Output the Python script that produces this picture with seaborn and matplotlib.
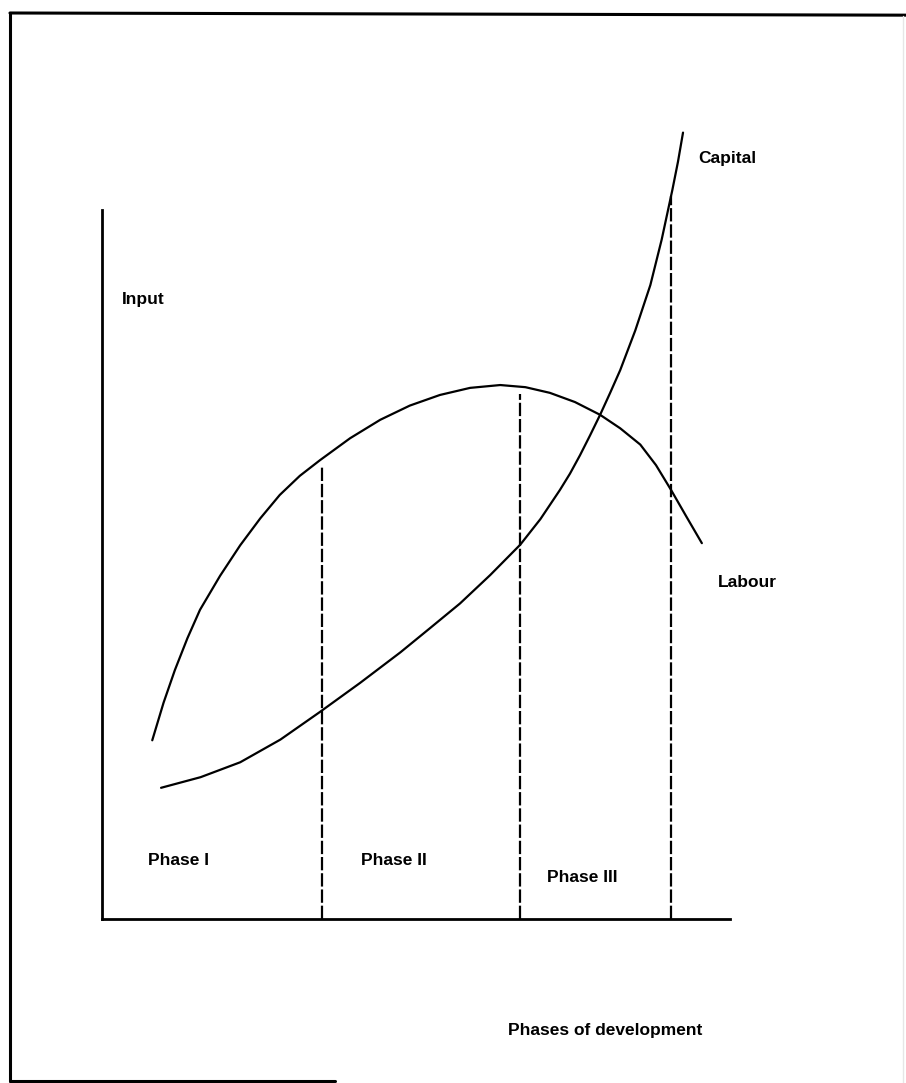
import matplotlib
matplotlib.use("Agg")
import matplotlib.pyplot as plt
from matplotlib.lines import Line2D
import seaborn as sns

# --- DATA (schematic units: x = development, y = input) ---
labour_x = [0.80, 0.98, 1.16, 1.36, 1.56, 1.88, 2.20, 2.52, 2.83, 3.15, 3.47, 3.95, 4.43, 4.90,
            5.38, 5.86, 6.34, 6.74, 7.13, 7.53, 7.93, 8.25, 8.57, 8.82, 9.06, 9.30, 9.55]
labour_y = [2.52, 3.05, 3.51, 3.96, 4.36, 4.84, 5.27, 5.65, 5.98, 6.25, 6.47, 6.78, 7.04, 7.24,
            7.39, 7.49, 7.53, 7.50, 7.42, 7.29, 7.11, 6.92, 6.69, 6.40, 6.05, 5.68, 5.30]

capital_x = [0.94, 1.57, 2.20, 2.84, 3.47, 4.11, 4.75, 5.22, 5.70, 6.18, 6.66, 6.98, 7.29,
             7.45, 7.61, 7.77, 7.93, 8.09, 8.25, 8.49, 8.73, 8.91, 9.08, 9.17, 9.25]
capital_y = [1.85, 2.00, 2.21, 2.53, 2.92, 3.33, 3.76, 4.10, 4.45, 4.85, 5.28, 5.64, 6.05,
             6.28, 6.54, 6.82, 7.11, 7.42, 7.74, 8.30, 8.94, 9.58, 10.28, 10.68, 11.09]

phase_bounds = [3.50, 6.66, 9.06]
phase_tops = [6.40, 7.40, 10.20]

phase_labels = ["Phase I", "Phase II", "Phase III"]
phase_label_x = [0.73, 4.12, 7.09]
phase_label_y = [0.82, 0.82, 0.58]

sns.set_theme(style="white")
plt.rcParams["font.family"] = ["Liberation Sans Narrow", "DejaVu Sans Condensed", "Liberation Sans"]

fig = plt.figure(figsize=(9.06, 10.83), dpi=100)
ax = fig.add_axes([0, 0, 1, 1])
ax.set_xlim(-1.624, 12.80)
ax.set_ylim(-2.313, 12.96)

# curves
sns.lineplot(x=labour_x, y=labour_y, sort=False, estimator=None, color="black", lw=1.6, ax=ax)
sns.lineplot(x=capital_x, y=capital_y, sort=False, estimator=None, color="black", lw=1.6, ax=ax)

# phase boundaries
ax.vlines(phase_bounds, 0, phase_tops, colors="black", lw=1.6, linestyles=(0, (6, 1.3)))

# axes as spines through the origin
for side in ["top", "right"]:
    ax.spines[side].set_visible(False)
ax.spines["left"].set_position(("data", 0))
ax.spines["bottom"].set_position(("data", 0))
ax.spines["left"].set_bounds(0, 10)
ax.spines["bottom"].set_bounds(0, 10)
for side in ["left", "bottom"]:
    ax.spines[side].set_color("black")
    ax.spines[side].set_linewidth(2.0)
ax.set_xticks([])
ax.set_yticks([])

# labels
fs = 12.5
txt = dict(fontsize=fs, weight="bold", color="black", va="center", ha="left")
ax.text(0.32, 8.73, "Input", **txt)
ax.text(9.49, 10.72, "Capital", **txt)
ax.text(9.81, 4.74, "Labour", **txt)
for lab, lx, ly in zip(phase_labels, phase_label_x, phase_label_y):
    ax.text(lx, ly, lab, **txt)
ax.text(6.46, -1.57, "Phases of development", **txt)

# scanned page frame
fig.add_artist(Line2D([0.011, 0.011], [0.002, 0.988], transform=fig.transFigure, color="black", lw=2.2))
fig.add_artist(Line2D([0.011, 1.0], [0.988, 0.986], transform=fig.transFigure, color="black", lw=2.2))
fig.add_artist(Line2D([0.011, 0.37], [0.002, 0.002], transform=fig.transFigure, color="black", lw=2.2))
fig.add_artist(Line2D([0.997, 0.997], [0.0, 0.985], transform=fig.transFigure, color="#e6e6e6", lw=1.0))

plt.savefig("out.png", dpi=100)
